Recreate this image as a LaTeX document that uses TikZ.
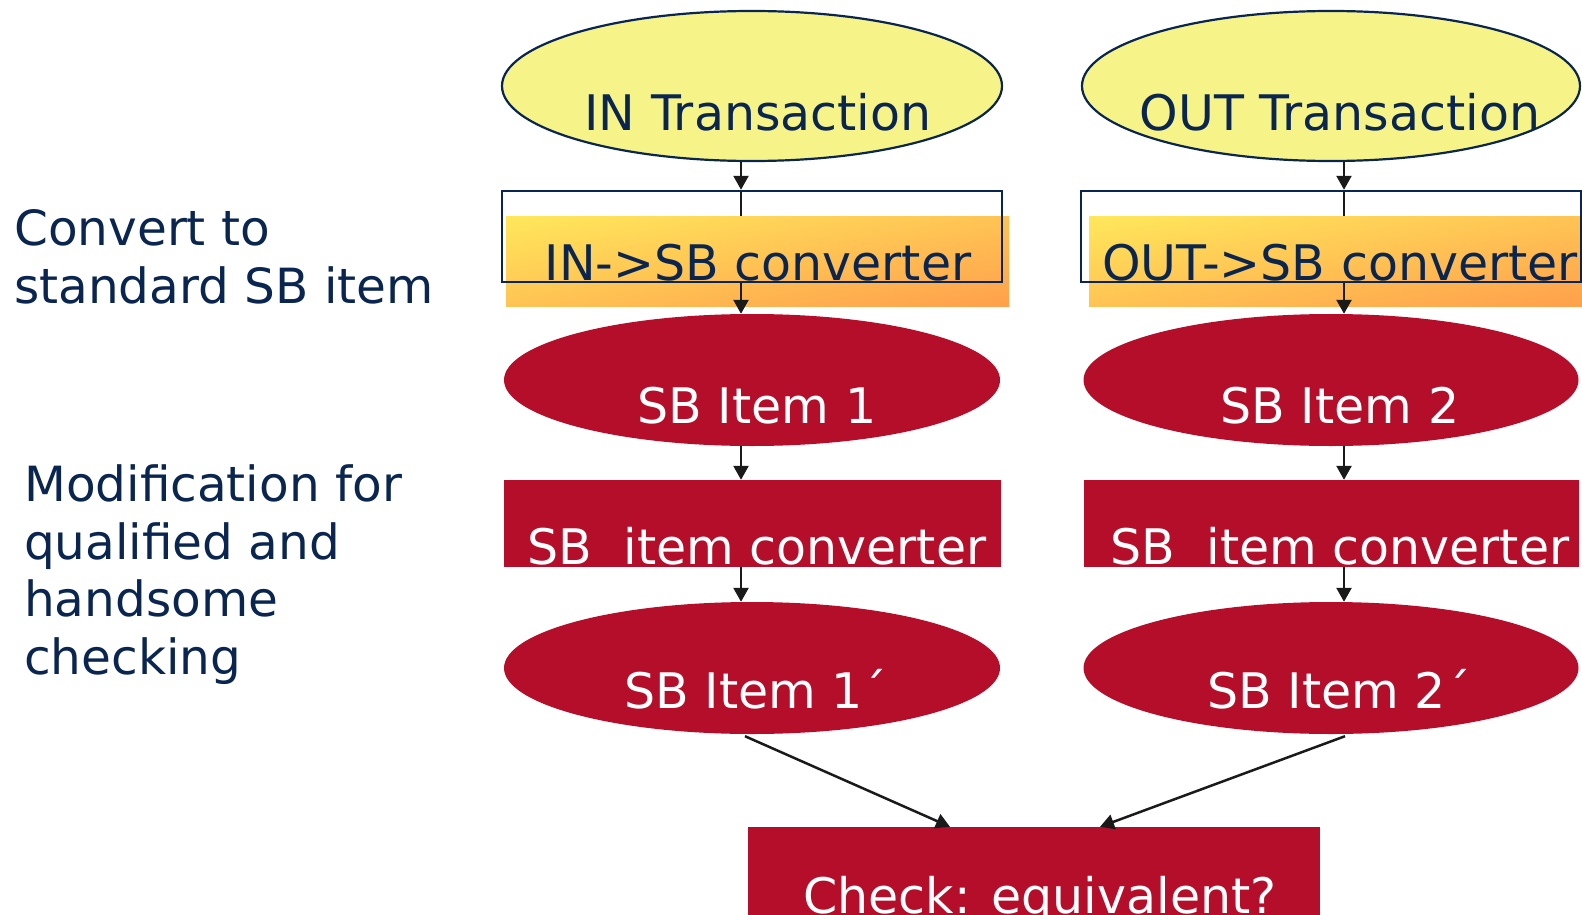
\documentclass[tikz,border=0pt]{standalone}
\usepackage{fontspec}
\setmainfont{DejaVu Sans}
\usetikzlibrary{shapes.geometric,arrows.meta,backgrounds}
\definecolor{navy}{RGB}{10,38,80}
\definecolor{lightyellow}{RGB}{246,243,136}
\definecolor{sbred}{RGB}{181,14,42}
\definecolor{gradtop}{RGB}{255,232,92}
\definecolor{gradbot}{RGB}{255,160,76}
\definecolor{arrowblack}{RGB}{26,26,26}
\tikzset{
  txt/.style={font=\fontsize{49}{57.5}\selectfont, inner sep=0pt, anchor=base},
  darktxt/.style={txt, text=navy},
  lighttxt/.style={txt, text=white},
  sidetxt/.style={font=\fontsize{48.5}{57.5}\selectfont, inner sep=0pt, anchor=base west, align=left, text=navy},
  transell/.style={ellipse, draw=navy, line width=2.2pt, fill=lightyellow, inner sep=0pt},
  itemell/.style={ellipse, fill=sbred, inner sep=0pt},
  redbox/.style={rectangle, fill=sbred, inner sep=0pt},
  frame/.style={rectangle, draw=navy, line width=2.5pt, inner sep=0pt},
  % diagonal blend: a horizontal ramp averaged with a vertical one
  gradbox/.style={rectangle, left color=gradtop, right color=gradbot, inner sep=0pt,
    postaction={top color=gradtop, bottom color=gradbot, fill opacity=0.5}},
  arr/.style={-{Triangle[length=14pt,width=15pt]}, line width=2.5pt, draw=arrowblack},
  plain/.style={line width=2.5pt, draw=arrowblack},
}
\begin{document}
\begin{tikzpicture}[x=1pt,y=-1pt]
\useasboundingbox (0,0) rectangle (1582,915);

% columns of the vertical connectors
\coordinate (colL) at (741,0);
\coordinate (colR) at (1344,0);

% transaction ellipses
\node[transell, minimum width=500pt, minimum height=150pt] (inT)  at (752,86)  {};
\node[transell, minimum width=498pt, minimum height=150pt] (outT) at (1331,86) {};
\node[darktxt] (inTt)  at (758,131)  {IN Transaction};
\node[darktxt] (outTt) at (1340,131) {OUT Transaction};

% converter boxes: shaded block with an outline above it
\node[gradbox, minimum width=503pt, minimum height=90pt] (inGrad)  at (757.5,261)  {};
\node[gradbox, minimum width=493pt, minimum height=90pt] (outGrad) at (1335.5,261) {};
\node[frame, minimum width=500pt, minimum height=91pt] (inFrame)  at (752,236.5)  {};
\node[frame, minimum width=500pt, minimum height=91pt] (outFrame) at (1331,236.5) {};
\node[darktxt] (inConv)  at (758,280)  {IN->SB converter};
\node[darktxt] (outConv) at (1340,280) {OUT->SB converter};

\begin{pgfonlayer}{background}
  \draw[arr]   (inT.south -| colL)      -- (inFrame.north -| colL);
  \draw[plain] (inFrame.north -| colL)  -- (inGrad.north -| colL);
  \draw[arr]   (outT.south -| colR)     -- (outFrame.north -| colR);
  \draw[plain] (outFrame.north -| colR) -- (outGrad.north -| colR);
\end{pgfonlayer}

% standard SB items
\node[itemell, minimum width=496pt, minimum height=132pt] (item1) at (752,380)  {};
\node[itemell, minimum width=495pt, minimum height=132pt] (item2) at (1331,380) {};
\node[lighttxt] (item1t) at (757,423)  {SB Item 1};
\node[lighttxt] (item2t) at (1340,423) {SB Item 2};

% item converters
\node[redbox, minimum width=497pt, minimum height=87pt] (conv1) at (752.5,523.5)  {};
\node[redbox, minimum width=495pt, minimum height=87pt] (conv2) at (1331.5,523.5) {};
\node[lighttxt] (conv1t) at (757,564)  {SB\ \ item converter};
\node[lighttxt] (conv2t) at (1340,564) {SB\ \ item converter};

% modified items
\node[itemell, minimum width=496pt, minimum height=132pt] (item1p) at (752,668)  {};
\node[itemell, minimum width=495pt, minimum height=132pt] (item2p) at (1331,668) {};
\node[lighttxt] (item1pt) at (756,708)  {SB Item 1´};
\node[lighttxt] (item2pt) at (1339,708) {SB Item 2´};

% final check
\node[redbox, minimum width=572pt, minimum height=88pt] (check) at (1034,871) {};
\node[lighttxt] (checkt) at (1040,913) {Check: equivalent?};

% vertical connectors
\draw[arr] (inFrame.south -| colL)  -- (item1.north -| colL);
\draw[arr] (outFrame.south -| colR) -- (item2.north -| colR);
\draw[arr] (item1.south -| colL) -- (conv1.north -| colL);
\draw[arr] (item2.south -| colR) -- (conv2.north -| colR);
\draw[arr] (conv1.south -| colL) -- (item1p.north -| colL);
\draw[arr] (conv2.south -| colR) -- (item2p.north -| colR);

% converging connectors
\draw[arr] ([xshift=-7pt,yshift=-2pt]item1p.south) -- ([xshift=-84pt]check.north);
\draw[arr] ([xshift=14pt,yshift=-2pt]item2p.south) -- ([xshift=66pt]check.north);

% side captions (anchored at the baseline of their last line)
\node[sidetxt] (cap1) at (14,303) {Convert to\\standard SB item};
\node[sidetxt] (cap2) at (24,674) {Modification for\\qualified and\\handsome\\checking};
\end{tikzpicture}
\end{document}
